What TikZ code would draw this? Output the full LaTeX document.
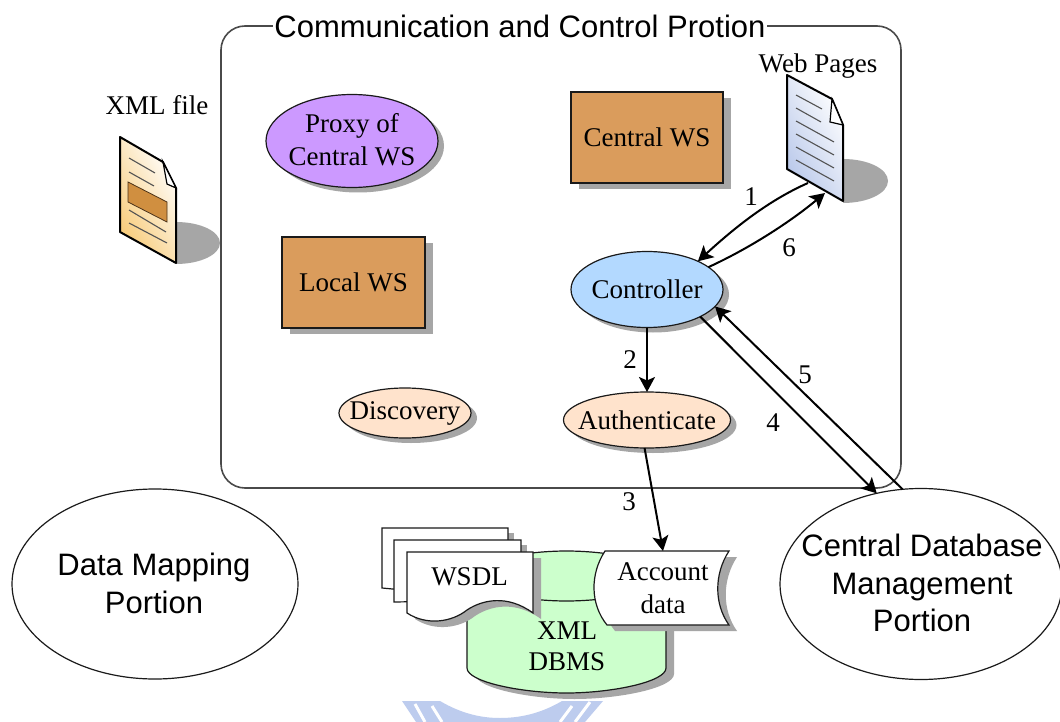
\documentclass[tikz,border=0pt]{standalone}
\usepackage{fontspec}
\setmainfont{Liberation Serif}
\setsansfont{Liberation Sans}
\usetikzlibrary{arrows.meta,shapes.geometric,shadows,calc}
\definecolor{edgec}{HTML}{1A1A1A}
\definecolor{shadowc}{HTML}{A6A6A6}
\definecolor{framec}{HTML}{4A4A4A}
\definecolor{wsc}{HTML}{DA9C5C}
\definecolor{proxyc}{HTML}{CC99FF}
\definecolor{ctrlc}{HTML}{B3D9FF}
\definecolor{authc}{HTML}{FFE3CC}
\definecolor{dbc}{HTML}{CCFFCC}
\definecolor{markc}{HTML}{BDCCEE}
\definecolor{xmlorange}{HTML}{F8CB78}
\definecolor{xmlrect}{HTML}{D08F40}
\definecolor{webblue}{HTML}{B9C8EA}
\tikzset{
  x=1pt,y=-1pt,
  shad/.style={drop shadow={shadow xshift=6pt,shadow yshift=-5pt,fill=shadowc,opacity=1}},
  ell/.style={ellipse,draw=edgec,line width=1.2pt,inner sep=0pt,outer sep=0pt,shad,font=\fontsize{27}{33}\selectfont},
  wsbox/.style={rectangle,draw=edgec,line width=1.4pt,fill=wsc,inner sep=0pt,outer sep=0pt,
     drop shadow={shadow xshift=8pt,shadow yshift=-6pt,fill=shadowc,opacity=1},font=\fontsize{27}{33}\selectfont},
  portion/.style={ellipse,draw=edgec,line width=1.2pt,inner sep=0pt,outer sep=0pt},
  sanslbl/.style={inner sep=0pt,outer sep=0pt,align=center,font=\sffamily\fontsize{31}{37.5}\selectfont},
  lbl/.style={inner sep=0pt,outer sep=0pt,font=\fontsize{27}{33}\selectfont,align=center},
  num/.style={inner sep=0pt,outer sep=0pt,font=\fontsize{27}{30}\selectfont},
  arr/.style={line width=2pt,draw=black,-{Stealth[length=15pt,width=16pt,inset=3.5pt]}},
  docline/.style={line width=1.1pt,draw=edgec!75},
  docedge/.style={line width=2pt,draw=black,line join=round},
  paper/.style={line width=1.2pt,draw=edgec,fill=white,line join=miter},
}
\begin{document}
\begin{tikzpicture}
\useasboundingbox (0,0) rectangle (1060,722);
\fill[white] (0,0) rectangle (1060,722);

% frame
\draw[framec,line width=1.6pt,rounded corners=24pt] (221,26) rectangle (901,488);
\node[inner sep=1pt,fill=white,font=\sffamily\fontsize{31}{36}\selectfont] (title) at (520,26) {Communication and Control Protion};

% XML file document
\begin{scope}
\clip (176,200) rectangle (232,280);
\fill[shadowc] (176,243) ellipse [x radius=44,y radius=21];
\end{scope}
\shade[bottom color=xmlorange,top color=white,shading angle=-60]
  (120,137) -- (163,162) -- (176,188) -- (176,263) -- (120,232) -- cycle;
\fill[xmlrect,draw=black!60!brown,line width=.8pt] (128,182) -- (167,202) -- (167,222) -- (128,202) -- cycle;
\draw[docline] (129,158) -- (155,173);
\draw[docline] (129,172) -- (154,186);
\draw[docline] (129,210) -- (166,232);
\draw[docline] (129,223) -- (167,243);
\draw[docedge] (120,137) -- (163,162) -- (176,188) -- (176,263) -- (120,232) -- cycle;
\draw[line width=1.2pt,black,fill=white] (163,162) -- (167,184) -- (176,188) -- cycle;
\node[lbl] (xmlfile) at (157,105) {XML file};

% Web pages document
\begin{scope}
\clip (843,150) rectangle (895,210);
\fill[shadowc] (843,181) ellipse [x radius=45,y radius=22];
\end{scope}
\shade[bottom color=webblue,top color=white,shading angle=-60]
  (787,75) -- (832,99) -- (843,125) -- (843,201) -- (787,169) -- cycle;
\draw[docline] (796,95) -- (822,109);
\draw[docline] (796,108) -- (821,122);
\draw[docline] (796,121) -- (834,142);
\draw[docline] (796,134) -- (834,155);
\draw[docline] (796,147) -- (834,168);
\draw[docline] (796,160) -- (834,181);
\draw[docedge] (787,75) -- (832,99) -- (843,125) -- (843,201) -- (787,169) -- cycle;
\draw[line width=1.2pt,black,fill=white] (832,99) -- (830,122) -- (843,125) -- cycle;
\node[lbl] (webpages) at (818,66) {Web Pages};
\coordinate (webout) at (808,183);
\coordinate (webin) at (825,193);

% process nodes
\node[ell,fill=proxyc,minimum width=172pt,minimum height=93pt] (proxy) at (352,141) {};
\node[lbl] (proxytext) at (352,140) {Proxy of\\Central WS};
\node[wsbox,minimum width=143pt,minimum height=91pt] (local) at (353.5,282.5) {Local WS};
\node[wsbox,minimum width=152pt,minimum height=91pt] (central) at (647,137.5) {Central WS};
\node[ell,fill=ctrlc,minimum width=152pt,minimum height=76pt] (controller) at (647,289.5) {\makebox[0pt]{Controller}};
\node[ell,fill=authc,minimum width=167pt,minimum height=56pt] (auth) at (647,420) {\makebox[0pt]{Authenticate}};
\node[ell,fill=authc,minimum width=132pt,minimum height=50pt] (discovery) at (405,413) {\makebox[0pt]{Discovery}};

% portion ellipses
\node[portion,minimum width=286pt,minimum height=190pt] (mapping) at (155,584) {};
\node[sanslbl] (mappingtext) at (154,583.5) {Data Mapping\\Portion};
\node[portion,minimum width=282pt,minimum height=191pt] (centraldb) at (921,584) {};
\node[sanslbl] (centraldbtext) at (922,583) {Central Database\\Management\\Portion};

% XML DBMS cylinder
\fill[shadowc] (475,582)
  .. controls (475,568) and (530,557) .. (574.5,557) .. controls (619,557) and (674,568) .. (674,582)
  -- (674,674) .. controls (674,688) and (619,699) .. (574.5,699) .. controls (530,699) and (475,688) .. (475,674) -- cycle;
\path[fill=dbc,draw=edgec,line width=1.2pt] (467,576)
  .. controls (467,562) and (522,551) .. (566.5,551) .. controls (611,551) and (666,562) .. (666,576)
  -- (666,668) .. controls (666,682) and (611,693) .. (566.5,693) .. controls (522,693) and (467,682) .. (467,668) -- cycle;
\draw[edgec,line width=1.2pt] (467,576) .. controls (467,590) and (522,601) .. (566.5,601) .. controls (611,601) and (666,590) .. (666,576);
\node[lbl,font=\fontsize{27}{31}\selectfont] (dbms) at (567,646.5) {XML\\DBMS};

% WSDL pages
\fill[shadowc] (508,533) -- (514,533) -- (514,542) -- (508,542) -- cycle;
\draw[paper] (382,528) -- (508,528) -- (508,600) -- (382,588) -- cycle;
\fill[shadowc] (521,545) -- (527,545) -- (527,556) -- (521,556) -- cycle;
\draw[paper] (394,540) -- (521,540) -- (521,600) -- (394,602) -- cycle;
\fill[shadowc] (415,558) -- (541,558) -- (541,619)
  .. controls (515,600) and (490,606) .. (475,616) .. controls (460,628) and (435,632) .. (415,619) -- cycle;
\draw[paper] (407,552) -- (533,552) -- (533,613)
  .. controls (507,594) and (482,600) .. (467,610) .. controls (452,622) and (427,626) .. (407,613) -- cycle;
\node[lbl] (wsdl) at (469.5,577) {WSDL};

% Account data
\fill[shadowc] (613,557) -- (737,557) .. controls (722,580) and (722,610) .. (737,631) -- (615,631) .. controls (598,610) and (598,580) .. (613,557) -- cycle;
\draw[paper] (605,551) -- (729,551) .. controls (714,574) and (714,604) .. (729,625) -- (607,625) .. controls (590,604) and (590,574) .. (605,551) -- cycle;
\node[lbl] (account) at (663,588.5) {Account\\data};
\coordinate (acctop) at (663,551);

% connectors
\draw[arr] (webout) .. controls (765,202) and (730,232) .. (controller.29);
\draw[arr] (controller.20) .. controls (750,248) and (790,222) .. (webin);
\draw[arr] (controller.south) -- (auth.north);
\draw[arr] (auth.-95) -- (acctop);
\draw[arr] (controller.-27) -- (centraldb.116.3);
\draw[arr] (centraldb.101.2) -- (controller.-14.6);

% labels
\node[num] (n1) at (751,197) {1};
\node[num] (n6) at (789,248) {6};
\node[num] (n2) at (630,360) {2};
\node[num] (n3) at (629,502) {3};
\node[num] (n4) at (773,423) {4};
\node[num] (n5) at (805,375) {5};

% watermark
\fill[markc] (402,701) -- (440,701) .. controls (462,714) and (482,718) .. (500,718)
  .. controls (525,718) and (545,711) .. (562,701) -- (603,701) -- (585,722) -- (416,722) -- cycle;
\draw[white,line width=3pt] (415,704) -- (425,722);
\draw[white,line width=3pt] (432,706) -- (442,722);
\draw[white,line width=3pt] (572,706) -- (560,722);
\draw[white,line width=3pt] (590,702) -- (575,722);
\end{tikzpicture}
\end{document}
